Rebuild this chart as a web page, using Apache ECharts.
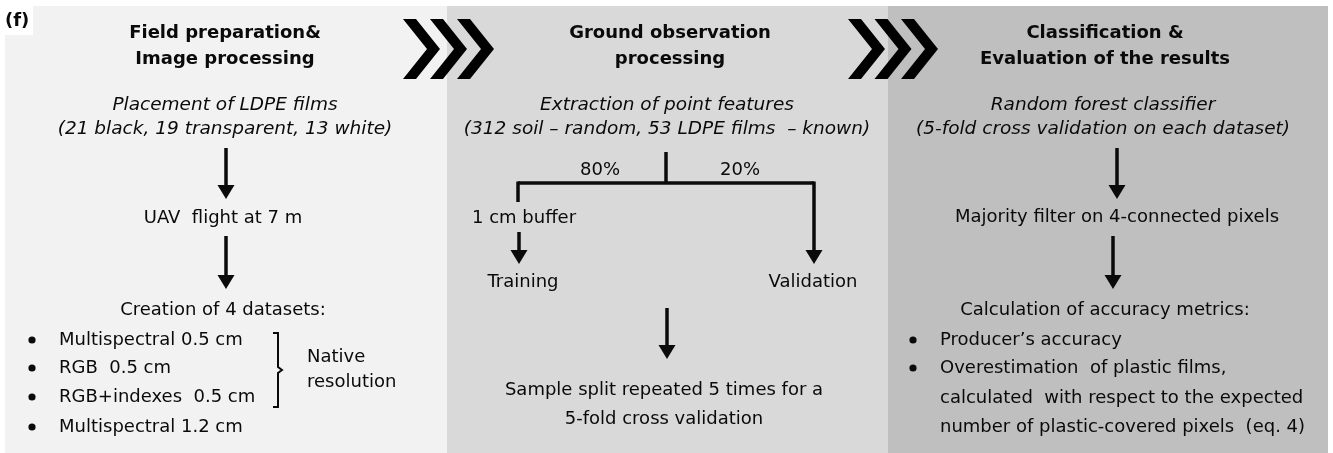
<!DOCTYPE html>
<html>
<head>
<meta charset="utf-8">
<script src="https://cdn.jsdelivr.net/npm/echarts@6/dist/echarts.min.js"></script>
<style>
  html, body { margin: 0; padding: 0; background: #fff; }
  #chart { width: 1333px; height: 453px; }
</style>
</head>
<body>
<div id="chart"></div>
<script>
  // texts of the three stages
  const panelLabel = '(f)'
  const stageTitles = [
    ['Field preparation&', 'Image processing'],
    ['Ground observation', 'processing'],
    ['Classification &', 'Evaluation of the results']
  ]
  const stageInputs = [
    ['Placement of LDPE films', '(21 black, 19 transparent, 13 white)'],
    ['Extraction of point features', '(312 soil \u2013 random, 53 LDPE films  \u2013 known)'],
    ['Random forest classifier', '(5-fold cross validation on each dataset)']
  ]
  const fieldSteps = ['UAV  flight at 7 m', 'Creation of 4 datasets:']
  const datasets = ['Multispectral 0.5 cm', 'RGB  0.5 cm', 'RGB+indexes  0.5 cm', 'Multispectral 1.2 cm']
  const nativeNote = ['Native', 'resolution']
  const splitShares = ['80%', '20%']
  const splitSteps = ['1 cm buffer', 'Training', 'Validation']
  const repeatNote = ['Sample split repeated 5 times for a', '5-fold cross validation']
  const classSteps = ['Majority filter on 4-connected pixels', 'Calculation of accuracy metrics:']
  const metrics = [['Producer\u2019s accuracy'], ['Overestimation  of plastic films,', 'calculated  with respect to the expected', 'number of plastic-covered pixels  (eq. 4)']]

  const FONT = '"DejaVu Sans", Verdana, sans-serif'
  const INK = '#0a0a0a'
  const chart = echarts.init(document.getElementById('chart'))
  const els = []

  function text (x, y, s, opt) {
    opt = opt || {}
    els.push({
      type: 'text', x: x, y: y, z: 10,
      style: {
        text: s, fill: INK, font: (opt.style || '') + ' ' + (opt.weight || 'normal') + ' ' + (opt.size || 18) + 'px ' + FONT,
        align: opt.align || 'center', verticalAlign: 'middle'
      }
    })
  }
  function seg (x1, y1, x2, y2, w) {
    els.push({ type: 'line', z: 10, shape: { x1: x1, y1: y1, x2: x2, y2: y2 }, style: { stroke: INK, lineWidth: w || 3.5 } })
  }
  function arrow (x, y1, y2) {
    seg(x, y1, x, y2 - 12)
    els.push({ type: 'polygon', z: 10, shape: { points: [[x - 8.5, y2 - 14], [x + 8.5, y2 - 14], [x, y2]] }, style: { fill: INK } })
  }
  function dot (x, y) {
    els.push({ type: 'circle', z: 10, shape: { cx: x, cy: y, r: 3.6 }, style: { fill: INK } })
  }
  function chevrons (x0, step) {
    for (let i = 0; i < 3; i++) {
      const x = x0 + i * step
      els.push({
        type: 'polygon', z: 20,
        shape: { points: [[x, 19], [x + 13, 19], [x + 37, 49], [x + 13, 79], [x, 79], [x + 24, 49]] },
        style: { fill: '#000' }
      })
    }
  }

  // panel backgrounds
  const panels = [[5, 447, '#f2f2f2'], [447, 888, '#d9d9d9'], [888, 1328, '#bfbfbf']]
  panels.forEach(p => {
    els.push({ type: 'rect', z: 1, shape: { x: p[0], y: 6, width: p[1] - p[0], height: 453 - 6 }, style: { fill: p[2] } })
  })
  els.push({ type: 'rect', z: 2, shape: { x: 0, y: 0, width: 33, height: 35 }, style: { fill: '#fff' } })
  text(5, 21, panelLabel, { weight: 'bold', size: 18, align: 'left' })

  chevrons(403, 27)
  chevrons(848, 26.5)

  // titles and inputs
  const centers = [225, 670, 1105]
  stageTitles.forEach((t, i) => {
    text(centers[i], 33, t[0], { weight: 'bold', size: 18 })
    text(centers[i], 59, t[1], { weight: 'bold', size: 18 })
  })
  const inputCenters = [225, 667, 1103]
  stageInputs.forEach((t, i) => {
    text(inputCenters[i], 105, t[0], { style: 'italic', size: 18.5 })
    text(inputCenters[i], 129, t[1], { style: 'italic', size: 18.5 })
  })

  // stage 1
  arrow(226, 148, 199)
  text(223, 218, fieldSteps[0])
  arrow(226, 236, 289)
  text(223, 310, fieldSteps[1])
  datasets.forEach((d, i) => {
    const y = [340, 368, 397, 427][i]
    dot(32, y)
    text(59, y, d, { align: 'left' })
  })
  els.push({
    type: 'polyline', z: 10,
    shape: { points: [[273, 333], [278, 333], [278, 367], [282, 370], [278, 373], [278, 407], [273, 407]] },
    style: { stroke: INK, lineWidth: 2, fill: null }
  })
  text(307, 357, nativeNote[0], { align: 'left' })
  text(307, 382, nativeNote[1], { align: 'left' })

  // stage 2
  seg(666, 152, 666, 184)
  seg(518, 183, 814, 183)
  seg(518, 181.5, 518, 202)
  text(600, 170, splitShares[0])
  text(740, 170, splitShares[1])
  arrow(814, 181.5, 264)
  text(472, 218, splitSteps[0], { align: 'left' })
  arrow(519, 232, 264)
  text(523, 282, splitSteps[1])
  text(813, 282, splitSteps[2])
  arrow(667, 308, 359)
  text(664, 390, repeatNote[0])
  text(664, 419, repeatNote[1])

  // stage 3
  arrow(1117, 148, 199)
  text(1117, 217, classSteps[0])
  arrow(1113, 236, 289)
  text(1105, 310, classSteps[1])
  let row = 0
  const rowY = [340, 368, 398, 427]
  metrics.forEach(m => {
    dot(913, rowY[row])
    m.forEach(line => {
      text(940, rowY[row], line, { align: 'left' })
      row++
    })
  })

  chart.setOption({
    backgroundColor: '#fff',
    animation: false,
    graphic: { elements: els }
  })
</script>
</body>
</html>
